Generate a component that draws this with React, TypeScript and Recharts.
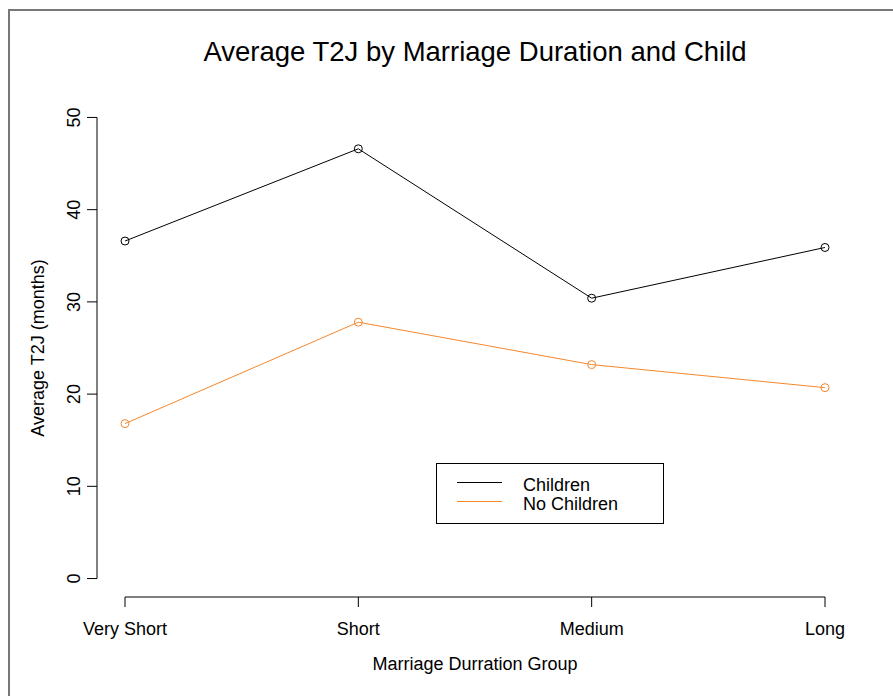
import { LineChart, Line, XAxis, YAxis, Legend } from "recharts";

const categories = ["Very Short", "Short", "Medium", "Long"];
const childrenT2J = [36.6, 46.6, 30.4, 35.9];
const noChildrenT2J = [16.8, 27.8, 23.2, 20.7];
const yTicks = [0, 10, 20, 30, 40, 50];

const data = categories.map((group, i) => ({
  group,
  children: childrenT2J[i],
  noChildren: noChildrenT2J[i],
}));

const FONT = '"Liberation Sans", Arial, Helvetica, sans-serif';
const ORANGE = "#F5872C";

// R style rotated y tick labels
function YTick(props: any) {
  const { x, y, payload } = props;
  return (
    <text
      x={x}
      y={y}
      transform={`rotate(-90 ${x} ${y})`}
      textAnchor="middle"
      fontSize={18}
      fontFamily={FONT}
      fill="#000"
    >
      {payload.value}
    </text>
  );
}

function LegendBox(props: any) {
  const items = props.payload ?? [];
  return (
    <svg width={228} height={61} style={{ display: "block" }}>
      <rect x={0.5} y={0.5} width={227} height={60} fill="#fff" stroke="#000" />
      {items.map((it: any, i: number) => (
        <g key={it.value}>
          <line x1={21} x2={66} y1={19.5 + 19 * i} y2={19.5 + 19 * i} stroke={it.color} />
          <text x={87} y={21.5 + 19 * i} dy="0.35em" fontSize={18} fontFamily={FONT} fill="#000">
            {it.value}
          </text>
        </g>
      ))}
    </svg>
  );
}

export default function App() {
  return (
    <div style={{ position: "absolute", left: 0, top: 0, width: 893, height: 696, background: "#fff", fontFamily: FONT }}>
      <div
        style={{
          position: "absolute",
          left: 8,
          top: 9,
          right: 0,
          bottom: 0,
          borderTop: "2px solid #777",
          borderLeft: "2px solid #777",
        }}
      />
      <div
        style={{
          position: "absolute",
          left: 0,
          width: 950,
          top: 37,
          textAlign: "center",
          fontSize: 27.5,
          lineHeight: "30px",
          color: "#000",
        }}
      >
        Average T2J by Marriage Duration and Child
      </div>
      <LineChart width={893} height={696} data={data} margin={{ top: 99, right: 40, bottom: 0, left: 0 }}>
        <XAxis
          dataKey="group"
          padding={{ left: 28, right: 28 }}
          height={99}
          interval={0}
          tickSize={10}
          tickMargin={15}
          tick={{ fontSize: 18, fill: "#000", fontFamily: FONT }}
          tickLine={{ stroke: "#000" }}
          axisLine={{ stroke: "#000", strokeDasharray: "0 28 700 2000" }}
          label={{
            value: "Marriage Durration Group",
            position: "insideBottom",
            offset: 26,
            fontSize: 18,
            fill: "#000",
            fontFamily: FONT,
          }}
        />
        <YAxis
          type="number"
          domain={[-2, 52]}
          ticks={yTicks}
          interval={0}
          width={97}
          tickSize={10}
          tickMargin={7}
          tick={<YTick />}
          tickLine={{ stroke: "#000" }}
          axisLine={{ stroke: "#000", strokeDasharray: "0 18.44 461.1 2000" }}
          label={{
            content: (p: any) => {
              const vb = p.viewBox ?? { y: 99, height: 498 };
              const cy = vb.y + vb.height / 2;
              return (
                <text
                  x={44}
                  y={cy}
                  transform={`rotate(-90 44 ${cy})`}
                  textAnchor="middle"
                  fontSize={18}
                  fontFamily={FONT}
                  fill="#000"
                >
                  Average T2J (months)
                </text>
              );
            },
          }}
        />
        <Legend
          layout="horizontal"
          align="center"
          verticalAlign="middle"
          content={<LegendBox />}
          wrapperStyle={{ left: 436, top: 463, width: 228, height: 61 }}
        />
        <Line
          type="linear"
          dataKey="children"
          name="Children"
          stroke="#000"
          strokeWidth={1}
          dot={{ r: 4, fill: "none", stroke: "#000", strokeWidth: 1 }}
          activeDot={false}
          isAnimationActive={false}
        />
        <Line
          type="linear"
          dataKey="noChildren"
          name="No Children"
          stroke={ORANGE}
          strokeWidth={1}
          dot={{ r: 4, fill: "none", stroke: ORANGE, strokeWidth: 1 }}
          activeDot={false}
          isAnimationActive={false}
        />
      </LineChart>
    </div>
  );
}
